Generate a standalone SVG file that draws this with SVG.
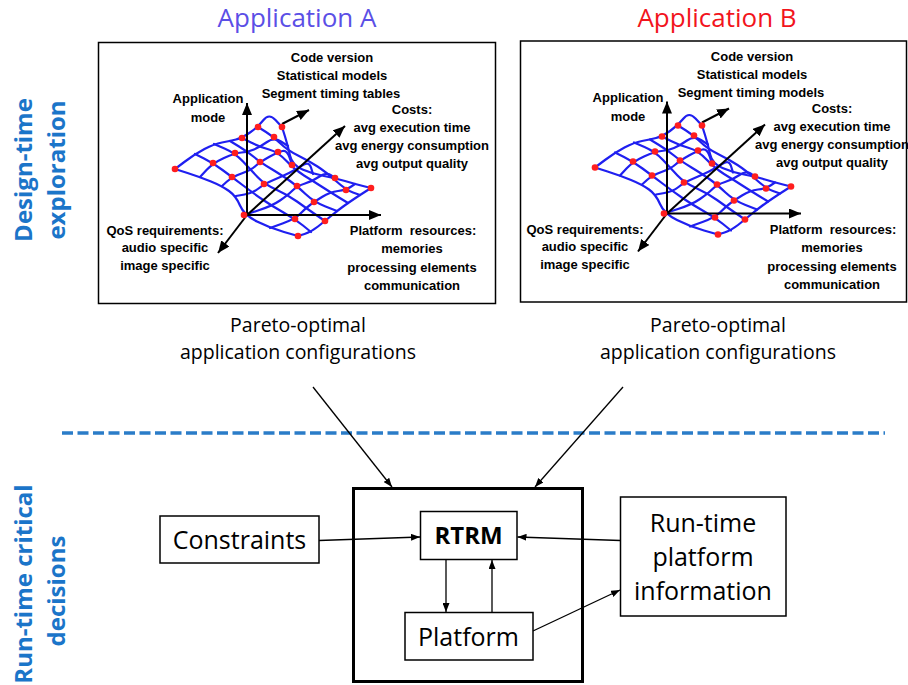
<svg xmlns="http://www.w3.org/2000/svg" xmlns:xlink="http://www.w3.org/1999/xlink" width="908" height="685" viewBox="0 0 908 685">
<style>
.bg{fill:#fff}
.frame{fill:#fff;stroke:#000;stroke-width:1.5}
.box{fill:#fff;stroke:#000;stroke-width:1.5}
.outer{fill:none;stroke:#000;stroke-width:3}
.pt{font-family:"Liberation Sans",Arial,sans-serif;font-weight:bold;font-size:13px;fill:#000;text-anchor:middle}
.cal{font-family:"Open Sans","Noto Sans",sans-serif;fill:#000;text-anchor:middle}
.side{font-family:"Open Sans","Noto Sans",sans-serif;font-weight:bold;font-size:24px;fill:#1b75c9;text-anchor:middle}
.mesh{fill:none;stroke:#1f1ff0;stroke-width:2.2;stroke-linejoin:round;stroke-linecap:round}
.dot{fill:#ff1e1e}
.axis{fill:none;stroke:#000;stroke-width:2;marker-end:url(#ah)}
.conn{fill:none;stroke:#000;stroke-width:1.3;marker-end:url(#ch)}
</style>
<defs>
<marker id="ah" markerUnits="userSpaceOnUse" markerWidth="12" markerHeight="10" refX="12" refY="5" orient="auto"><path d="M0,0 L12,5 L0,10 z" fill="#000"/></marker>
<marker id="ch" markerUnits="userSpaceOnUse" markerWidth="9" markerHeight="7" refX="9" refY="3.5" orient="auto"><path d="M0,0 L9,3.5 L0,7 z" fill="#000"/></marker>
<g id="surface">
<g class="mesh">
<path d="M175,169 L185,161.5 Q195,154 204.5,149 Q214,144 222,142.5 Q230,141 236,139.5 Q242,138 250,132.5 Q258,127 263.5,120 Q269,113 275.5,120 L282,127"/>
<path d="M200,177 L206.5,170 Q213,163 224,158 Q235,153 241.5,152.5 Q248,152 254,149.5 Q260,147 267,142 Q274,137 281,141.5 L288,146"/>
<path d="M222,186 L227,181.5 Q232,177 241.5,173.5 Q251,170 255.5,166 Q260,162 269,157 Q278,152 282.5,151 Q287,150 289.5,157.5 L292,165"/>
<path d="M236,196 L244.5,194.5 Q253,193 258.5,188.5 Q264,184 273.5,180 Q283,176 289,173 Q295,170 302,165.5 Q309,161 311,167.5 L313,174"/>
<path d="M244,215 L258,210.5 Q272,206 280,200.5 Q288,195 292.5,190.5 Q297,186 305,183.5 Q313,181 319.5,176.5 Q326,172 330.5,175 L335,178"/>
<path d="M270,228 L282.5,223.5 Q295,219 300.5,213.5 Q306,208 310,205 Q314,202 322,197 Q330,192 338,191 Q346,190 350.5,187 L355,184"/>
<path d="M298,236 L304.5,234 Q311,232 318,226.5 Q325,221 331,216 Q337,211 342.5,207 Q348,203 354,199 Q360,195 365.5,191.5 L371,188"/>
<path d="M175,169 L187.5,173 Q200,177 211,181.5 Q222,186 229,191 Q236,196 240,205.5 Q244,215 257,221.5 Q270,228 284,232 L298,236"/>
<path d="M195,154 L204,158.5 Q213,163 222.5,170 Q232,177 242.5,185 Q253,193 262.5,199.5 Q272,206 283.5,212.5 Q295,219 303,225.5 L311,232"/>
<path d="M214,144 L224.5,148.5 Q235,153 243,161.5 Q251,170 257.5,177 Q264,184 276,189.5 Q288,195 297,201.5 Q306,208 315.5,214.5 L325,221"/>
<path d="M230,141 L239,146.5 Q248,152 254,157 Q260,162 271.5,169 Q283,176 290,181 Q297,186 305.5,194 Q314,202 325.5,206.5 L337,211"/>
<path d="M242,138 L251,142.5 Q260,147 269,149.5 Q278,152 286.5,161 Q295,170 304,175.5 Q313,181 321.5,186.5 Q330,192 339,197.5 L348,203"/>
<path d="M258,127 L266,132 Q274,137 280.5,143.5 Q287,150 298,155.5 Q309,161 317.5,166.5 Q326,172 336,181 Q346,190 353,192.5 L360,195"/>
<path d="M282,127 L285,136.5 Q288,146 290,155.5 Q292,165 302.5,169.5 Q313,174 324,176 Q335,178 345,181 Q355,184 363,186 L371,188"/>
</g>
<line class="axis" x1="247" y1="215" x2="247" y2="103"/>
<line class="axis" x1="247" y1="215" x2="381" y2="215"/>
<line class="axis" x1="247" y1="215" x2="218" y2="253"/>
<line class="axis" x1="247" y1="215" x2="345" y2="126"/>
<line class="axis" x1="282" y1="124" x2="309" y2="110"/>
<g class="dot">
<circle cx="175" cy="169" r="3.3"/><circle cx="213" cy="163" r="3.3"/><circle cx="235" cy="153" r="3.3"/>
<circle cx="242" cy="138" r="3.3"/><circle cx="258" cy="127" r="3.3"/><circle cx="282" cy="127" r="3.3"/>
<circle cx="274" cy="137" r="3.3"/><circle cx="278" cy="152" r="3.3"/><circle cx="260" cy="162" r="3.3"/>
<circle cx="232" cy="177" r="3.3"/><circle cx="292" cy="165" r="3.3"/><circle cx="264" cy="184" r="3.3"/>
<circle cx="297" cy="186" r="3.3"/><circle cx="335" cy="178" r="3.3"/><circle cx="371" cy="188" r="3.3"/>
<circle cx="346" cy="190" r="3.3"/><circle cx="314" cy="202" r="3.3"/><circle cx="244" cy="215" r="3.3"/>
<circle cx="295" cy="219" r="3.3"/><circle cx="325" cy="221" r="3.3"/><circle cx="298" cy="236" r="3.3"/>
</g>
</g>
</defs>
<rect class="bg" x="0" y="0" width="908" height="685"/>

<g id="title-a"><text class="cal" x="297" y="27" font-size="26" style="fill:#5b4fe6">Application A</text></g>
<g id="title-b"><text class="cal" x="717" y="27" font-size="26" style="fill:#f2141c">Application B</text></g>

<g id="label-design">
<text class="side" transform="translate(32,170) rotate(-90)">Design-time</text>
<text class="side" transform="translate(65,170) rotate(-90)">exploration</text>
</g>
<g id="label-runtime">
<text class="side" transform="translate(32,584) rotate(-90)">Run-time critical</text>
<text class="side" transform="translate(65,591) rotate(-90)">decisions</text>
</g>

<g id="panel-a">
<rect class="frame" x="98.5" y="42.5" width="397" height="261"/>
<use xlink:href="#surface" href="#surface"/>
<text class="pt" x="332" y="62">Code version</text>
<text class="pt" x="332" y="80">Statistical models</text>
<text class="pt" x="331" y="98">Segment timing tables</text>
<text class="pt" x="208" y="103">Application</text>
<text class="pt" x="208" y="122">mode</text>
<text class="pt" x="412" y="114">Costs:</text>
<text class="pt" x="412" y="132">avg execution time</text>
<text class="pt" x="412" y="150">avg energy consumption</text>
<text class="pt" x="412" y="168">avg output quality</text>
<text class="pt" x="165" y="235">QoS requirements:</text>
<text class="pt" x="165" y="252">audio specific</text>
<text class="pt" x="165" y="270">image specific</text>
<text class="pt" x="413" y="235" xml:space="preserve" style="white-space:pre">Platform  resources:</text>
<text class="pt" x="412" y="253">memories</text>
<text class="pt" x="412" y="272">processing elements</text>
<text class="pt" x="412" y="290">communication</text>
</g>

<g id="panel-b">
<rect class="frame" x="520.5" y="41" width="386" height="261"/>
<g transform="translate(420,-1.5)">
<use xlink:href="#surface" href="#surface"/>
<text class="pt" x="332" y="62">Code version</text>
<text class="pt" x="332" y="80">Statistical models</text>
<text class="pt" x="331" y="98">Segment timing models</text>
<text class="pt" x="208" y="103">Application</text>
<text class="pt" x="208" y="122">mode</text>
<text class="pt" x="412" y="114">Costs:</text>
<text class="pt" x="412" y="132">avg execution time</text>
<text class="pt" x="412" y="150">avg energy consumption</text>
<text class="pt" x="412" y="168">avg output quality</text>
<text class="pt" x="165" y="235">QoS requirements:</text>
<text class="pt" x="165" y="252">audio specific</text>
<text class="pt" x="165" y="270">image specific</text>
<text class="pt" x="413" y="235" xml:space="preserve" style="white-space:pre">Platform  resources:</text>
<text class="pt" x="412" y="253">memories</text>
<text class="pt" x="412" y="272">processing elements</text>
<text class="pt" x="412" y="290">communication</text>
</g>
</g>

<g id="pareto-a">
<text class="cal" x="298" y="332" font-size="19.5">Pareto-optimal</text>
<text class="cal" x="298" y="359" font-size="19.5">application configurations</text>
</g>
<g id="pareto-b">
<text class="cal" x="718" y="332" font-size="19.5">Pareto-optimal</text>
<text class="cal" x="718" y="359" font-size="19.5">application configurations</text>
</g>

<g id="divider">
<line x1="62" y1="433" x2="885" y2="433" stroke="#2a7cc8" stroke-width="3.5" stroke-dasharray="11 4.5"/>
</g>

<g id="rtrm-system"><rect class="outer" x="353.5" y="488.5" width="229" height="193"/></g>
<g id="constraints">
<rect class="box" x="160" y="516" width="159" height="47"/>
<text class="cal" x="239.5" y="549" font-size="25">Constraints</text>
</g>
<g id="rtrm">
<rect class="box" x="420.5" y="511.5" width="96.5" height="48"/>
<text class="cal" x="468.5" y="544" font-size="24" font-weight="bold">RTRM</text>
</g>
<g id="platform">
<rect class="box" x="405" y="612.5" width="128" height="47.5"/>
<text class="cal" x="468.5" y="645.5" font-size="25">Platform</text>
</g>
<g id="runtime-info">
<rect class="box" x="620.5" y="497" width="165.5" height="119"/>
<text class="cal" x="703" y="531.5" font-size="25">Run-time</text>
<text class="cal" x="703" y="565.5" font-size="25">platform</text>
<text class="cal" x="703" y="600" font-size="25">information</text>
</g>

<g id="connectors">
<line class="conn" x1="313" y1="387" x2="392" y2="487"/>
<line class="conn" x1="623" y1="387" x2="535" y2="487"/>
<line class="conn" x1="319" y1="540.5" x2="420" y2="537"/>
<line class="conn" x1="620.5" y1="540.5" x2="517.5" y2="537"/>
<line class="conn" x1="446" y1="559.5" x2="446" y2="612"/>
<line class="conn" x1="492" y1="612.5" x2="492" y2="560"/>
<line class="conn" x1="533" y1="631" x2="620" y2="590"/>
</g>
</svg>
